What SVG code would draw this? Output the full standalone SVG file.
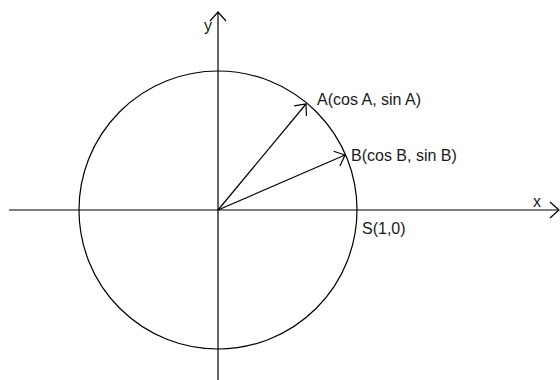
<svg xmlns="http://www.w3.org/2000/svg" width="560" height="380" viewBox="0 0 560 380">
<defs>
<marker id="arr" markerUnits="userSpaceOnUse" markerWidth="20" markerHeight="20" refX="10" refY="10" orient="auto" overflow="visible">
<path d="M1,2 L10,10 L1,18" fill="none" stroke="#000" stroke-width="1.2"/>
</marker>
<style>
.ln{stroke:#000;stroke-width:1.2;fill:none}
.t{font-family:"Liberation Sans",Arial,sans-serif;font-size:16px;fill:#1a1a1a}
</style>
</defs>
<rect width="560" height="380" fill="#fff"/>
<g id="connectors">
<line class="ln" x1="9" y1="210" x2="559" y2="210" marker-end="url(#arr)"/>
<line class="ln" x1="218" y1="380" x2="218" y2="12" marker-end="url(#arr)"/>
<line class="ln" x1="218" y1="210" x2="306" y2="104" marker-end="url(#arr)"/>
<line class="ln" x1="218" y1="210" x2="345" y2="155" marker-end="url(#arr)"/>
</g>
<g id="circle">
<circle class="ln" cx="218" cy="210" r="139"/>
</g>
<g id="labels">
<text class="t" x="204" y="31">y</text>
<text class="t" x="533" y="207">x</text>
<text class="t" x="317" y="105">A(cos A, sin A)</text>
<text class="t" x="351" y="161">B(cos B, sin B)</text>
<text class="t" x="362" y="234">S(1,0)</text>
</g>
</svg>
